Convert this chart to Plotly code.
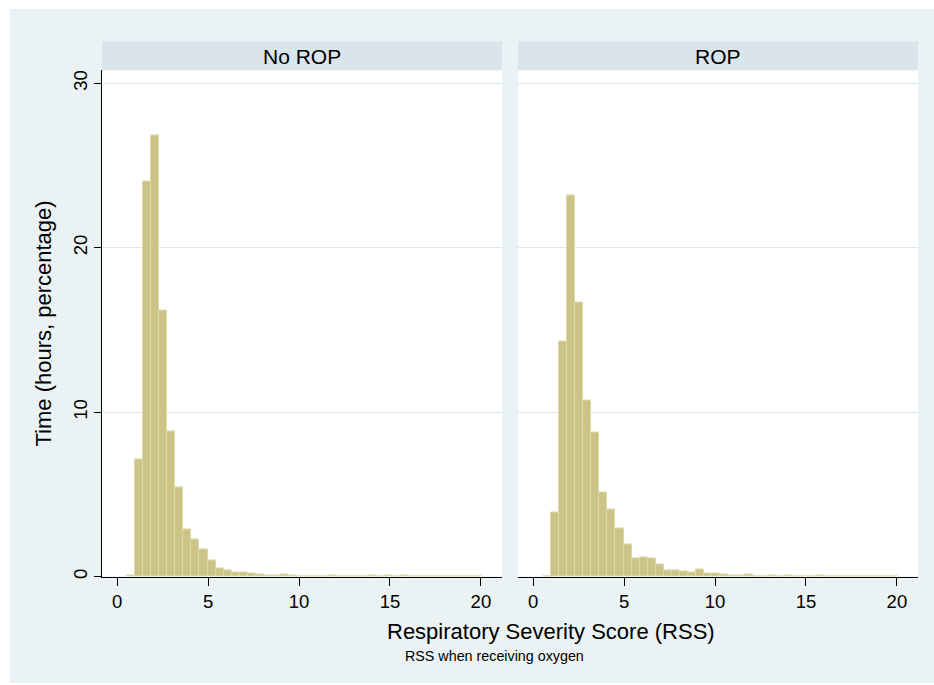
import plotly.graph_objects as go

# ---- data ----
bin_start = 0.54
bin_width = 0.4432
no_rop = [0.05, 7.15, 24.0, 26.8, 16.2, 8.8, 5.45, 2.85, 2.25, 1.65, 0.97, 0.5, 0.36, 0.26,
          0.24, 0.2, 0.14, 0.07, 0.06, 0.12, 0.05, 0.03, 0.03, 0.03, 0.03, 0.07, 0.02, 0.02,
          0.02, 0.02, 0.04, 0.02, 0.06, 0.02, 0.06, 0.01, 0.01, 0.01, 0.01, 0.01, 0.0, 0.0,
          0.0, 0.01]
rop = [0.0, 3.9, 14.3, 23.2, 16.7, 10.7, 8.75, 5.1, 4.1, 2.9, 1.95, 1.1, 1.17, 1.11, 0.71,
       0.38, 0.36, 0.34, 0.24, 0.44, 0.18, 0.16, 0.12, 0.08, 0.04, 0.14, 0.02, 0.02, 0.04,
       0.02, 0.04, 0.01, 0.02, 0.01, 0.04, 0.01, 0.01, 0.01, 0.01, 0.0, 0.0, 0.0, 0.0, 0.01]
panel_titles = ["No ROP", "ROP"]
x_ticks = [0, 5, 10, 15, 20]
y_ticks = [0, 10, 20, 30]

centers = [bin_start + bin_width * (i + 0.5) for i in range(len(no_rop))]

W, H = 934, 685
FONT = "Liberation Sans, Arial, sans-serif"
BAR = "#CCC487"
BAR_EDGE = "#DDD8A8"
GRID = "#DDE8EC"
BG = "#EAF2F3"
STRIP = "#D9E5EB"

def px(x):
    return x / W

def py(y):
    return 1 - y / H

left_dom = [px(102), px(502)]
right_dom = [px(518), px(918)]
ydom = [py(578.3), py(70.7)]

fig = go.Figure()
for vals, xa, ya in [(no_rop, "x", "y"), (rop, "x2", "y2")]:
    fig.add_trace(go.Bar(x=centers, y=vals, width=bin_width, xaxis=xa, yaxis=ya,
                         marker=dict(color=BAR, line=dict(color=BAR_EDGE, width=1)),
                         showlegend=False, hoverinfo="x+y"))

xcommon = dict(range=[-0.83, 21.16], tickvals=x_ticks, ticks="outside", ticklen=8,
               tickcolor="black", showline=True, linecolor="black", linewidth=1,
               showgrid=False, zeroline=False, fixedrange=True,
               tickfont=dict(family=FONT, size=18.5, color="black"))
fig.update_layout(
    xaxis=dict(domain=left_dom, anchor="y", **xcommon),
    xaxis2=dict(domain=right_dom, anchor="y2", **xcommon),
    yaxis=dict(domain=ydom, anchor="x", range=[0, 30.78], tickvals=y_ticks,
               ticks="outside", ticklen=7, tickcolor="black", tickangle=-90,
               showline=True, linecolor="black", linewidth=1, showgrid=True,
               gridcolor=GRID, gridwidth=1, zeroline=False,
               tickfont=dict(family=FONT, size=18.5, color="black")),
    yaxis2=dict(domain=ydom, anchor="x2", range=[0, 30.78], tickvals=y_ticks,
                showticklabels=False, ticks="", showline=False, showgrid=True,
                gridcolor=GRID, gridwidth=1, zeroline=False),
    width=W, height=H, margin=dict(l=0, r=0, t=0, b=0),
    paper_bgcolor="white", plot_bgcolor="white", bargap=0,
    font=dict(family=FONT, color="black"),
)

shapes = [dict(type="rect", xref="paper", yref="paper", x0=px(10), x1=1, y0=0, y1=py(9),
               fillcolor=BG, line=dict(width=0), layer="below")]
annotations = []
for dom, title in zip([left_dom, right_dom], panel_titles):
    shapes.append(dict(type="rect", xref="paper", yref="paper", x0=dom[0], x1=dom[1],
                       y0=py(70.7), y1=py(41.7), fillcolor=STRIP, line=dict(width=0),
                       layer="below"))
    annotations.append(dict(xref="paper", yref="paper", x=(dom[0] + dom[1]) / 2,
                            y=py(56.2), text=title, showarrow=False,
                            xanchor="center", yanchor="middle",
                            font=dict(family=FONT, size=21, color="black")))
# plot area white boxes (over grey background)
for dom in [left_dom, right_dom]:
    shapes.append(dict(type="rect", xref="paper", yref="paper", x0=dom[0], x1=dom[1],
                       y0=ydom[0], y1=ydom[1], fillcolor="white", line=dict(width=0),
                       layer="below"))

annotations.append(dict(xref="paper", yref="paper", x=px(44), y=py(324.5),
                        text="Time (hours, percentage)", textangle=-90, showarrow=False,
                        xanchor="center", yanchor="middle",
                        font=dict(family=FONT, size=22, color="black")))
annotations.append(dict(xref="paper", yref="paper", x=px(385), y=py(633),
                        text="Respiratory Severity Score (RSS)", showarrow=False,
                        xanchor="left", yanchor="middle",
                        font=dict(family=FONT, size=22, color="black")))
annotations.append(dict(xref="paper", yref="paper", x=px(403), y=py(658),
                        text="RSS when receiving oxygen", showarrow=False,
                        xanchor="left", yanchor="middle",
                        font=dict(family=FONT, size=14.3, color="black")))

fig.update_layout(shapes=shapes, annotations=annotations)
fig.write_html("out.html")
